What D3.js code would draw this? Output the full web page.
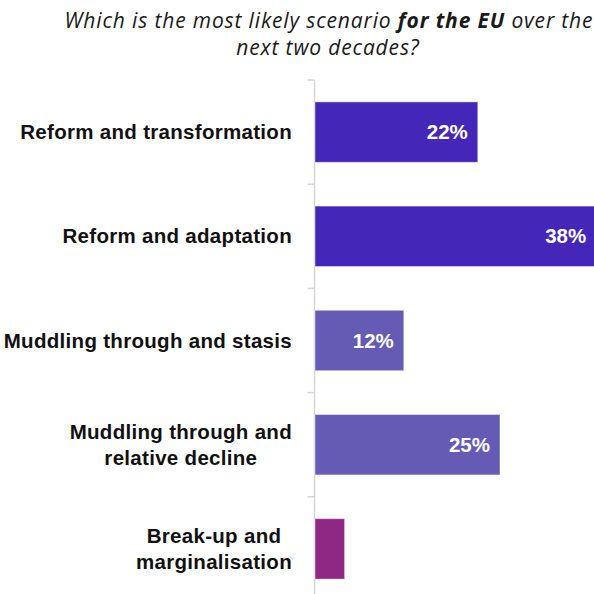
<!DOCTYPE html>
<html>
<head>
<meta charset="utf-8">
<script src="https://cdn.jsdelivr.net/npm/d3@7"></script>
<style>
  html, body { margin: 0; padding: 0; background: #ffffff; }
  svg { display: block; }
</style>
</head>
<body>
<div id="chart"></div>
<script>
// Survey question: most likely scenario for the EU over the next two decades
const categories = [
  "Reform and transformation",
  "Reform and adaptation",
  "Muddling through and stasis",
  "Muddling through and\nrelative decline",
  "Break-up and\nmarginalisation"
];
const shares = [22, 38, 12, 25, 4];            // percent of respondents
const valueLabels = ["22%", "38%", "12%", "25%", ""];
const barColors = ["#4426b8", "#4426b8", "#655ab4", "#655ab4", "#8e2884"];

const width = 594, height = 594;
const axisX = 314.5;

const svg = d3.select("#chart").append("svg")
  .attr("width", width).attr("height", height);

// Title, two centred lines with a bold run
const title = svg.append("text")
  .attr("text-anchor", "middle")
  .attr("font-family", "'Open Sans', 'Noto Sans', sans-serif")
  .attr("font-style", "italic")
  .attr("font-size", 21)
  .attr("letter-spacing", 0.85)
  .attr("fill", "#1a1a1a");
const t1 = title.append("tspan").attr("x", 329).attr("y", 28);
t1.append("tspan").text("Which is the most likely  scenario ");
t1.append("tspan").attr("font-weight", 700).text("for the EU");
t1.append("tspan").text(" over the");
title.append("tspan").attr("x", 328).attr("y", 55).text("next two decades?");

const y = d3.scaleBand()
  .domain(categories)
  .range([80, 601])
  .paddingInner(0.42)
  .paddingOuter(0.21);

const x = d3.scaleLinear()
  .domain([0, 40])
  .range([axisX + 0.5, axisX + 0.5 + 296]);

const gap = (y.step() - y.bandwidth()) / 2;

// Category axis: vertical rule with ticks between bands
const axis = svg.append("g");
axis.append("line")
  .attr("x1", axisX).attr("x2", axisX)
  .attr("y1", y.range()[0]).attr("y2", y.range()[1])
  .attr("stroke", "#d6d6d6").attr("stroke-width", 1.5);
axis.selectAll("line.tick")
  .data(categories)
  .join("line")
  .attr("class", "tick")
  .attr("x1", axisX - 7).attr("x2", axisX)
  .attr("y1", d => y(d) - gap).attr("y2", d => y(d) - gap)
  .attr("stroke", "#d6d6d6").attr("stroke-width", 1.5);

// Bars
svg.append("g").selectAll("rect")
  .data(categories)
  .join("rect")
  .attr("x", x(0))
  .attr("y", d => y(d))
  .attr("width", (d, i) => x(shares[i]) - x(0))
  .attr("height", y.bandwidth())
  .attr("fill", (d, i) => barColors[i])
  .attr("stroke", "rgba(255,255,255,0.45)")
  .attr("stroke-width", 1);

// Value labels inside bar ends
svg.append("g").selectAll("text")
  .data(categories)
  .join("text")
  .attr("x", (d, i) => x(shares[i]) - 10)
  .attr("y", d => y(d) + y.bandwidth() / 2 + 7)
  .attr("text-anchor", "end")
  .attr("font-family", "'Liberation Sans', Arial, sans-serif")
  .attr("font-weight", 700)
  .attr("font-size", 20.5)
  .attr("fill", "#ffffff")
  .text((d, i) => valueLabels[i]);

// Category labels, right-aligned block; wrapped lines centred on each other
const labelRight = 292;
const lineGap = 26;
const labels = svg.append("g")
  .attr("font-family", "'Liberation Sans', Arial, sans-serif")
  .attr("font-weight", 700)
  .attr("font-size", 20.5)
  .attr("letter-spacing", 0.3)
  .attr("fill", "#111111");

categories.forEach(cat => {
  const lines = cat.split("\n");
  const cy = y(cat) + y.bandwidth() / 2;
  const g = labels.append("text");
  const spans = lines.map((ln, k) =>
    g.append("tspan")
      .attr("y", cy + 7 + (k - (lines.length - 1) / 2) * lineGap)
      .text(ln));
  if (lines.length === 1) {
    g.attr("text-anchor", "end");
    spans[0].attr("x", labelRight);
  } else {
    const w = d3.max(spans, s => s.node().getComputedTextLength());
    g.attr("text-anchor", "middle");
    spans.forEach(s => s.attr("x", labelRight - w / 2));
  }
});
</script>
</body>
</html>
